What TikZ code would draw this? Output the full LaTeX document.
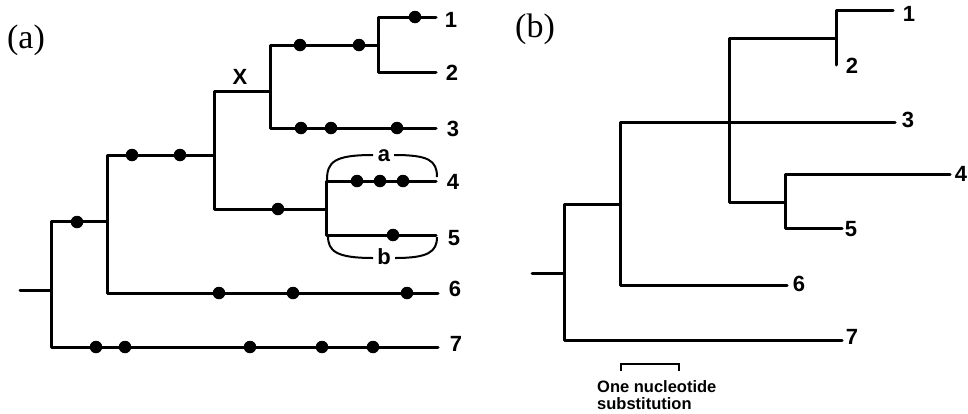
\documentclass[tikz,border=0pt]{standalone}
\usepackage{fontspec}
\setmainfont{Liberation Serif}
\newfontfamily\labfont{Liberation Sans}
\begin{document}
\begin{tikzpicture}[x=1pt,y=-1pt,
  br/.style={line width=3pt, line cap=round, line join=round},
  bead/.style={circle, fill=black, inner sep=0pt, minimum size=12.5pt},
  tip/.style={font=\labfont\bfseries\fontsize{22}{24}\selectfont, inner sep=0pt},
  panel/.style={font=\fontsize{34}{36}\selectfont, inner sep=0pt},
  brk/.style={line width=2pt}]
\useasboundingbox (0,0) rectangle (968,413);
\fill[white] (0,0) rectangle (968,413);

% ---------------- panel (a)
\node[panel] (pa) at (26,40) {(a)};
\coordinate (aR0) at (20,290);
\coordinate (aA) at (51,290);
\coordinate (aB) at (107,221);
\coordinate (aC) at (214,155);
\coordinate (aD) at (270,91);
\coordinate (aE) at (326,209);
\coordinate (aF) at (378,45);
\coordinate (at1) at (436,17);
\coordinate (at2) at (436,72);
\coordinate (at3) at (436,128);
\coordinate (at4) at (436,181);
\coordinate (at5) at (436,235);
\coordinate (at6) at (438,293);
\coordinate (at7) at (438,347);

\draw[br] (aR0) -- (aA);
\draw[br] (aA) |- (aB);
\draw[br] (aA) |- (at7);
\draw[br] (aB) |- (aC);
\draw[br] (aB) |- (at6);
\draw[br] (aC) |- (aD);
\draw[br] (aC) |- (aE);
\draw[br] (aD) |- (aF);
\draw[br] (aD) |- (at3);
\draw[br] (aF) |- (at1);
\draw[br] (aF) |- (at2);
\draw[br] (aE) |- (at4);
\draw[br] (aE) |- (at5);

% substitutions
\node[bead] (d1) at (77,222) {};
\foreach \x [count=\i] in {96,125,250,322,373} \node[bead] (d7\i) at (\x,347) {};
\foreach \x [count=\i] in {219,293,407} \node[bead] (d6\i) at (\x,293) {};
\foreach \x [count=\i] in {132,180} \node[bead] (dc\i) at (\x,155) {};
\node[bead] (de1) at (278,209) {};
\foreach \x [count=\i] in {300,359} \node[bead] (df\i) at (\x,45) {};
\foreach \x [count=\i] in {301,331,397} \node[bead] (d3\i) at (\x,128) {};
\node[bead] (d11) at (415,17) {};
\foreach \x [count=\i] in {357,380,403} \node[bead] (d4\i) at (\x,181) {};
\node[bead] (d51) at (393,235) {};

\node[tip] (la1) at (451,20) {1};
\node[tip] (la2) at (452,73) {2};
\node[tip] (la3) at (453,129) {3};
\node[tip] (la4) at (453,182) {4};
\node[tip] (la5) at (454,238) {5};
\node[tip] (la6) at (455,289) {6};
\node[tip] (la7) at (456,344) {7};
\node[tip] (lX) at (240,77) {X};

% brackets a and b
\draw[brk] (327,180) .. controls (327,162) and (334,155) .. (373,155);
\draw[brk] (394,155) .. controls (428,155) and (437,160) .. (437,177);
\node[tip] (lba) at (384,156) {a};
\draw[brk] (328,236) .. controls (328,251) and (336,258) .. (373,258);
\draw[brk] (395,258) .. controls (428,258) and (437,252) .. (437,237);
\node[tip] (lbb) at (384,257) {b};

% ---------------- panel (b)
\node[panel] (pb) at (535,29) {(b)};
\coordinate (bR0) at (532,273);
\coordinate (bA) at (564,273);
\coordinate (bB) at (620,204);
\coordinate (bD) at (729,122);
\coordinate (bE) at (836,38);
\coordinate (bF) at (785,202);
\coordinate (bt1) at (893,10);
\coordinate (bt2) at (836,65);
\coordinate (bt3) at (895,122);
\coordinate (bt4) at (950,174);
\coordinate (bt5) at (842,228);
\coordinate (bt6) at (787,285);
\coordinate (bt7) at (842,340);

\draw[br] (bR0) -- (bA);
\draw[br] (bA) |- (bB);
\draw[br] (bA) |- (bt7);
\draw[br] (bB) |- (bt3);
\draw[br] (bB) |- (bt6);
\draw[br] (bD) |- (bE);
\draw[br] (bD) |- (bF);
\draw[br] (bE) |- (bt1);
\draw[br] (bE) -- (bt2);
\draw[br] (bF) |- (bt4);
\draw[br] (bF) |- (bt5);

\node[tip] (lb1) at (909,14) {1};
\node[tip] (lb2) at (852,66) {2};
\node[tip] (lb3) at (908,120) {3};
\node[tip] (lb4) at (961,174) {4};
\node[tip] (lb5) at (851,229) {5};
\node[tip] (lb6) at (799,284) {6};
\node[tip] (lb7) at (852,337) {7};

% scale bar
\coordinate (sL) at (621,371);
\coordinate (sR) at (679,371);
\draw[line width=2.4pt] (sL) -- ++(0,-7) -| (sR);
\node[anchor=base west, inner sep=0pt, font=\labfont\bfseries\fontsize{16.5}{17}\selectfont] (s1) at (597,392) {One nucleotide};
\node[anchor=base west, inner sep=0pt, font=\labfont\bfseries\fontsize{16.5}{17}\selectfont] (s2) at (597,409) {substitution};
\end{tikzpicture}
\end{document}
